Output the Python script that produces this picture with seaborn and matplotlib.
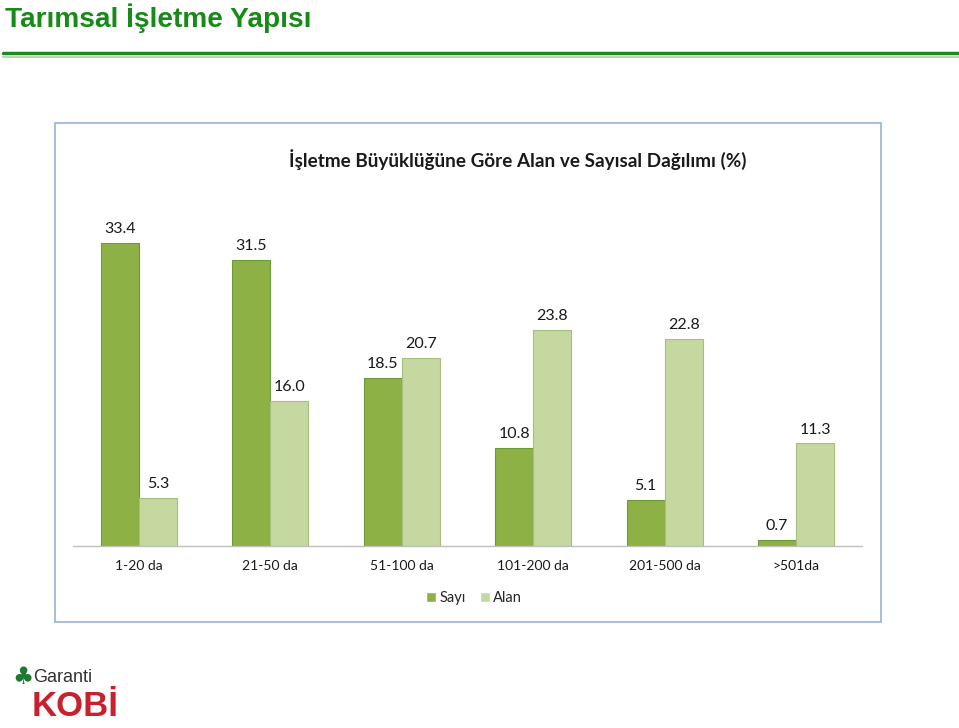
import matplotlib
matplotlib.use("Agg")
import matplotlib.pyplot as plt
from matplotlib.patches import Rectangle
from matplotlib.lines import Line2D
import seaborn as sns
import pandas as pd

categories = ["1-20 da", "21-50 da", "51-100 da", "101-200 da", "201-500 da", ">501da"]
sayi = [33.4, 31.5, 18.5, 10.8, 5.1, 0.7]
alan = [5.3, 16.0, 20.7, 23.8, 22.8, 11.3]
series = ["Sayı", "Alan"]
colors = ["#8DB145", "#C5D89F"]

df = pd.DataFrame({
    "Kategori": categories * 2,
    "Değer": sayi + alan,
    "Seri": [series[0]] * len(categories) + [series[1]] * len(categories),
})

sns.set_theme(style="white")
plt.rcParams["font.family"] = ["Lato", "DejaVu Sans"]

fig = plt.figure(figsize=(9.59, 7.28), dpi=100)
W, H = 959, 728

def fx(x):
    return x / W

def fy(y):
    return 1 - y / H

# slide title
fig.text(fx(5), fy(18), "Tarımsal İşletme Yapısı", family=["Liberation Sans", "DejaVu Sans"],
         fontweight="bold", fontsize=20.2, color="#178A17", ha="left", va="center")
fig.add_artist(Line2D([fx(3), fx(959)], [fy(53), fy(53)], color="#1E8A1E", lw=2.5, transform=fig.transFigure))
fig.add_artist(Line2D([fx(3), fx(959)], [fy(56.5), fy(56.5)], color="#B8D8B0", lw=1.5, transform=fig.transFigure))

# chart border
fig.add_artist(Rectangle((fx(55), fy(622)), fx(881) - fx(55), fy(123) - fy(622),
                         transform=fig.transFigure, fill=False, edgecolor="#95B3D7", lw=1.2))

fig.text(fx(518), fy(160), "İşletme Büyüklüğüne Göre Alan ve Sayısal Dağılımı (%)",
         fontweight="bold", fontsize=13.6, color="#1A1A1A", ha="center", va="center")

ax = fig.add_axes([fx(73), fy(546), fx(862) - fx(73), (546 - 219.4) / H])
sns.barplot(data=df, x="Kategori", y="Değer", hue="Seri", order=categories, hue_order=series,
            palette=colors, width=0.58, saturation=1, ax=ax, legend=True)

for bar_container, edge in zip(ax.containers, ["#6E9A35", "#A6BE7E"]):
    for p in bar_container:
        p.set_edgecolor(edge)
        p.set_linewidth(0.8)
    ax.bar_label(bar_container, fmt="%.1f", padding=5, fontsize=11.5, color="#1A1A1A")

ax.set_xlim(-0.5, 5.5)
ax.set_ylim(0, 36)
ax.set_xlabel("")
ax.set_ylabel("")
ax.set_yticks([])
ax.tick_params(axis="x", length=0, labelsize=10, colors="#1A1A1A", pad=10)
for s in ["top", "right", "left"]:
    ax.spines[s].set_visible(False)
ax.spines["bottom"].set_color("#BFBFBF")
ax.spines["bottom"].set_linewidth(1)
ax.set_facecolor("none")

leg = ax.legend(loc="center", bbox_to_anchor=(fx(474), fy(598)), bbox_transform=fig.transFigure,
                ncol=2, frameon=False, fontsize=10.5, handlelength=0.7, handleheight=0.7,
                handletextpad=0.2, columnspacing=1.0)

# logo
fig.text(fx(23), fy(677), "♣", fontsize=17, color="#1E7A30", ha="center", va="center",
         family=["DejaVu Sans"])
fig.text(fx(33), fy(678), "Garanti", fontsize=13, color="#333333", ha="left", va="center",
         family=["Liberation Sans", "DejaVu Sans"])
fig.text(fx(32), fy(707), "KOBİ", fontsize=25, fontweight="bold", color="#C8202F", ha="left",
         va="center", family=["Liberation Sans Narrow", "Liberation Sans", "DejaVu Sans"])

fig.savefig("out.png", dpi=100)
